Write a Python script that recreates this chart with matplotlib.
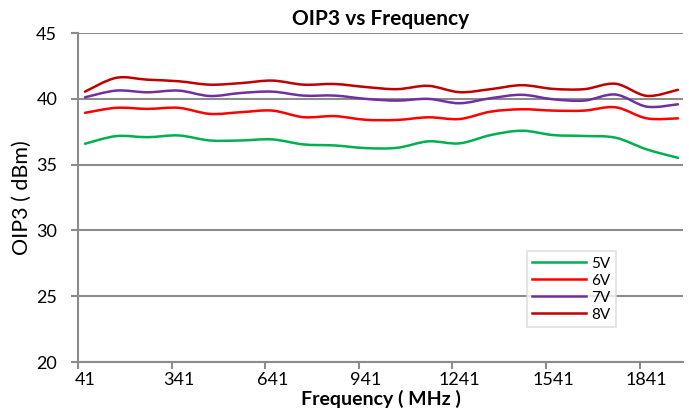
import numpy as np
import matplotlib.pyplot as plt
from matplotlib.path import Path
from matplotlib.patches import PathPatch

plt.rcParams['font.family'] = ['Lato', 'DejaVu Sans']

# data
freq = [41, 141, 241, 341, 441, 541, 641, 741, 841, 941,
        1041, 1141, 1241, 1341, 1441, 1541, 1641, 1741, 1841, 1941]
v5 = [36.59, 37.17, 37.09, 37.22, 36.84, 36.84, 36.92, 36.54, 36.46, 36.26,
      36.28, 36.77, 36.62, 37.25, 37.58, 37.25, 37.18, 37.05, 36.16, 35.52]
v6 = [38.94, 39.32, 39.24, 39.32, 38.86, 38.99, 39.11, 38.61, 38.69, 38.41,
      38.40, 38.60, 38.47, 39.03, 39.21, 39.11, 39.11, 39.36, 38.52, 38.52]
v7 = [40.12, 40.63, 40.50, 40.63, 40.22, 40.45, 40.55, 40.25, 40.25, 40.00,
      39.87, 40.00, 39.67, 40.05, 40.31, 39.97, 39.87, 40.33, 39.41, 39.59]
v8 = [40.55, 41.60, 41.46, 41.34, 41.08, 41.20, 41.39, 41.08, 41.13, 40.90,
      40.74, 40.99, 40.51, 40.74, 41.04, 40.76, 40.74, 41.15, 40.23, 40.69]

series = [('5V', v5, '#00B050'), ('6V', v6, '#FF0000'),
          ('7V', v7, '#7030A0'), ('8V', v8, '#C00000')]

tick_labels = ['41', '341', '641', '941', '1241', '1541', '1841']


# smooth line like Excel (Catmull-Rom -> bezier)
def smooth_path(x, y):
    x = np.asarray(x, float)
    y = np.asarray(y, float)
    verts = [(x[0], y[0])]
    codes = [Path.MOVETO]
    n = len(x)
    for i in range(n - 1):
        x0, y0 = (x[i - 1], y[i - 1]) if i > 0 else (x[i], y[i])
        x3, y3 = (x[i + 2], y[i + 2]) if i + 2 < n else (x[i + 1], y[i + 1])
        c1 = (x[i] + (x[i + 1] - x0) / 6, y[i] + (y[i + 1] - y0) / 6)
        c2 = (x[i + 1] - (x3 - x[i]) / 6, y[i + 1] - (y3 - y[i]) / 6)
        verts += [c1, c2, (x[i + 1], y[i + 1])]
        codes += [Path.CURVE4] * 3
    return Path(verts, codes)


fig = plt.figure(figsize=(6.89, 4.19), dpi=100)
ax = fig.add_axes([0.1132, 0.136, 0.878, 0.785])

for name, vals, col in series:
    ax.add_patch(PathPatch(smooth_path(freq, vals), facecolor='none',
                           edgecolor=col, lw=1.8, capstyle='round'))
    ax.plot([], [], color=col, lw=1.8, label=name)

ax.set_xlim(18.6, 1957)
ax.set_ylim(20, 45)
ax.set_yticks([20, 25, 30, 35, 40, 45])
ax.yaxis.grid(True, color='#8C8C8C', lw=1.5)
ax.set_axisbelow(True)

# tick marks sit between categories, labels on the category
ax.set_xticks([18.6 + 300 * k for k in range(7)])
ax.set_xticklabels([])
ax.set_xticks([int(t) for t in tick_labels], minor=True)
ax.set_xticklabels(tick_labels, minor=True)
ax.tick_params(axis='x', which='minor', length=0, labelsize=13, pad=7.5)
ax.tick_params(axis='x', which='major', length=5, color='#8C8C8C', width=1.5)
ax.tick_params(axis='y', length=5, color='#8C8C8C', width=1.5, labelsize=13,
               pad=10)

for s in ['top', 'right']:
    ax.spines[s].set_visible(False)
for s in ['left', 'bottom']:
    ax.spines[s].set_color('#8C8C8C')
    ax.spines[s].set_linewidth(1.5)

ax.set_title('OIP3 vs Frequency', fontsize=15, fontweight='bold', pad=6)
ax.set_xlabel('Frequency ( MHz )', fontsize=14, fontweight='bold', labelpad=1)
ax.set_ylabel('OIP3 ( dBm)', fontsize=15.5, labelpad=3)

leg = ax.legend(loc='upper left', bbox_to_anchor=(0.742, 0.337), fontsize=11,
                frameon=True, fancybox=False, edgecolor='#D9D9D9',
                handlelength=3.5, handletextpad=0.35, labelspacing=0.2,
                borderpad=0.35, borderaxespad=0)
leg.get_frame().set_linewidth(1.2)

fig.savefig('out.png', dpi=100)
